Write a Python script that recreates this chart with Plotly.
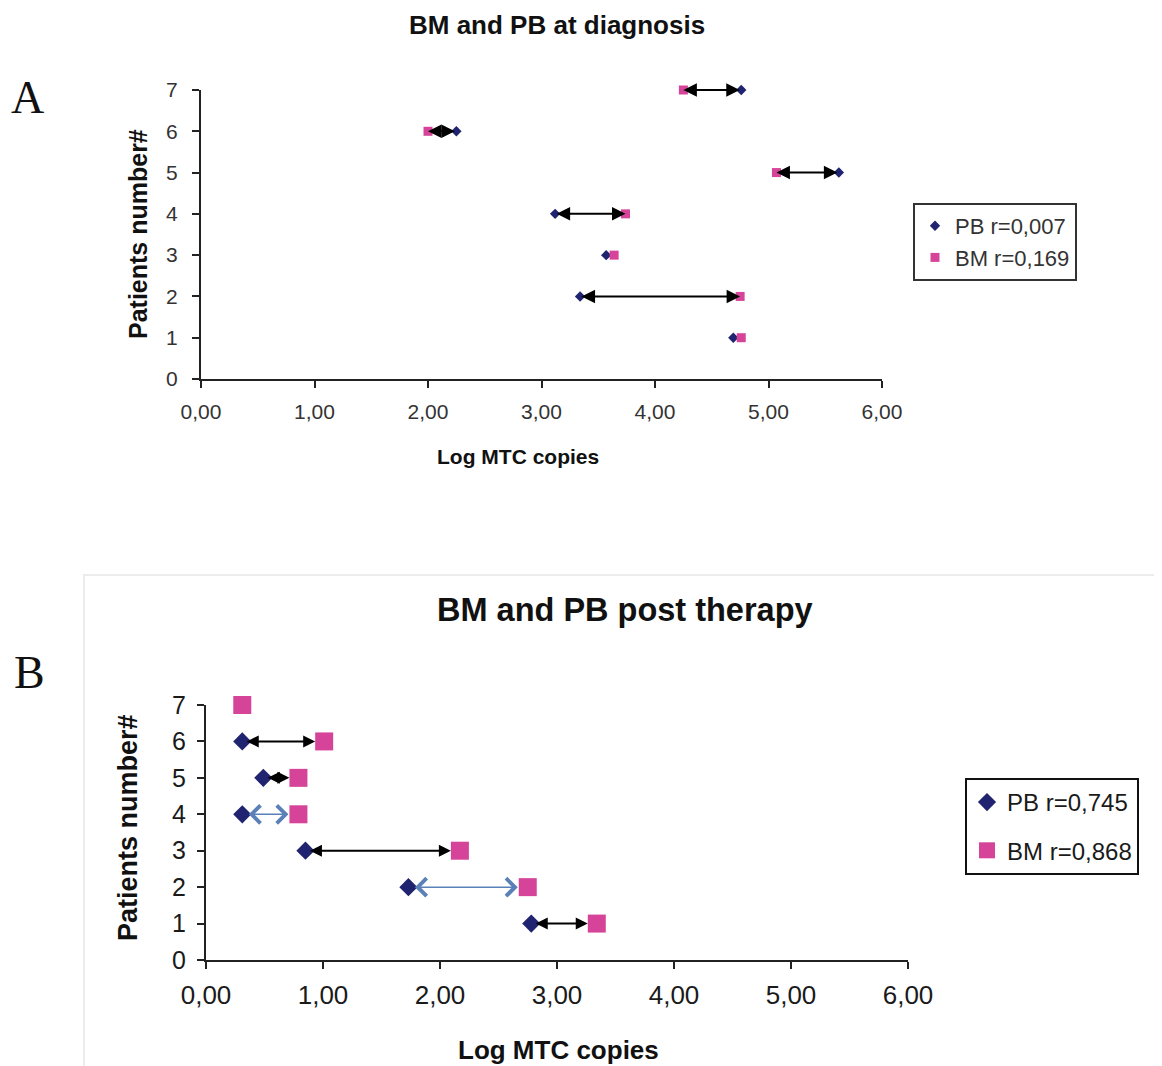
import plotly.graph_objects as go

# ---------------- data ----------------
patients = [1, 2, 3, 4, 5, 6, 7]

# Panel A: at diagnosis (Log MTC copies)
pb_diag = [4.69, 3.34, 3.57, 3.12, 5.62, 2.25, 4.76]
bm_diag = [4.76, 4.75, 3.64, 3.74, 5.07, 2.00, 4.25]
arrows_diag = [7, 6, 5, 4, 2]

# Panel B: post therapy (Log MTC copies)
pb_post = [2.78, 1.73, 0.85, 0.31, 0.49, 0.31, None]
bm_post = [3.34, 2.75, 2.17, 0.79, 0.79, 1.01, 0.31]
arrows_post_solid = [6, 5, 3, 1]
arrows_post_open = [4, 2]

x_ticks = [0, 1, 2, 3, 4, 5, 6]
x_ticklabels = ["0,00", "1,00", "2,00", "3,00", "4,00", "5,00", "6,00"]
y_ticks = [0, 1, 2, 3, 4, 5, 6, 7]

legend_a = ["PB r=0,007", "BM r=0,169"]
legend_b = ["PB r=0,745", "BM r=0,868"]

# ---------------- style ----------------
W, H = 1162, 1066
OFF = 8  # page body margin offset
PB_COLOR = "#1f2370"
BM_COLOR = "#d6449a"
OPEN_ARROW = "#5a80b8"
SANS = "Liberation Sans, Arial, sans-serif"


def px_x(p):
    return (p - OFF) / W


def px_y(p):
    return 1 - (p - OFF) / H


fig = go.Figure()

fig.add_trace(go.Scatter(x=pb_diag, y=patients, mode="markers", name=legend_a[0],
                         marker=dict(symbol="diamond", size=8, color=PB_COLOR), cliponaxis=False,
                         xaxis="x", yaxis="y", legend="legend", legendgroup="a1"))
fig.add_trace(go.Scatter(x=bm_diag, y=patients, mode="markers", name=legend_a[1],
                         marker=dict(symbol="square", size=9, color=BM_COLOR), cliponaxis=False,
                         xaxis="x", yaxis="y", legend="legend", legendgroup="a2"))

fig.add_trace(go.Scatter(x=pb_post, y=patients, mode="markers", name=legend_b[0],
                         marker=dict(symbol="diamond", size=14, color=PB_COLOR), cliponaxis=False,
                         xaxis="x2", yaxis="y2", legend="legend2", legendgroup="b1"))
fig.add_trace(go.Scatter(x=bm_post, y=patients, mode="markers", name=legend_b[1],
                         marker=dict(symbol="square", size=18, color=BM_COLOR), cliponaxis=False,
                         xaxis="x2", yaxis="y2", legend="legend2", legendgroup="b2"))

annotations = []

for p in arrows_diag:
    i = patients.index(p)
    annotations.append(dict(
        x=bm_diag[i], y=p, ax=pb_diag[i], ay=p, xref="x", yref="y", axref="x", ayref="y",
        text="", showarrow=True, arrowside="end+start", arrowhead=2, startarrowhead=2,
        arrowsize=1.35, startarrowsize=1.35, arrowwidth=2, arrowcolor="black",
        standoff=0, startstandoff=0))

for p in arrows_post_solid:
    i = patients.index(p)
    annotations.append(dict(
        x=bm_post[i], y=p, ax=pb_post[i], ay=p, xref="x2", yref="y2", axref="x2", ayref="y2",
        text="", showarrow=True, arrowside="end+start", arrowhead=2, startarrowhead=2,
        arrowsize=1.2, startarrowsize=1.2, arrowwidth=2, arrowcolor="black",
        standoff=9, startstandoff=3))
for p in arrows_post_open:
    i = patients.index(p)
    annotations.append(dict(
        x=bm_post[i], y=p, ax=pb_post[i], ay=p, xref="x2", yref="y2", axref="x2", ayref="y2",
        text="", showarrow=True, arrowside="end+start", arrowhead=4, startarrowhead=4,
        arrowsize=2.3, startarrowsize=2.3, arrowwidth=1.5, arrowcolor=OPEN_ARROW,
        standoff=10, startstandoff=5))

annotations += [
    dict(text="<b>BM and PB at diagnosis</b>", x=px_x(557), y=px_y(25), xref="paper", yref="paper",
         showarrow=False, font=dict(family=SANS, size=26, color="#111111"), xanchor="center", yanchor="middle"),
    dict(text="<b>Log MTC copies</b>", x=px_x(518), y=px_y(456), xref="paper", yref="paper",
         showarrow=False, font=dict(family=SANS, size=21, color="#111111"), xanchor="center", yanchor="middle"),
    dict(text="<b>Patients number#</b>", x=px_x(138), y=px_y(234), xref="paper", yref="paper",
         showarrow=False, textangle=-90, font=dict(family=SANS, size=25, color="#111111"),
         xanchor="center", yanchor="middle"),
    dict(text="A", x=px_x(27), y=px_y(97), xref="paper", yref="paper", showarrow=False,
         font=dict(family="Liberation Serif, serif", size=46, color="#111111"), xanchor="center", yanchor="middle"),
    dict(text="<b>BM and PB post therapy</b>", x=px_x(625), y=px_y(610), xref="paper", yref="paper",
         showarrow=False, font=dict(family=SANS, size=32.5, color="#111111"), xanchor="center", yanchor="middle"),
    dict(text="<b>Log MTC copies</b>", x=px_x(558), y=px_y(1050), xref="paper", yref="paper",
         showarrow=False, font=dict(family=SANS, size=26, color="#111111"), xanchor="center", yanchor="middle"),
    dict(text="<b>Patients number#</b>", x=px_x(128), y=px_y(828), xref="paper", yref="paper",
         showarrow=False, textangle=-90, font=dict(family=SANS, size=27, color="#111111"),
         xanchor="center", yanchor="middle"),
    dict(text="B", x=px_x(29), y=px_y(672), xref="paper", yref="paper", showarrow=False,
         font=dict(family="Liberation Serif, serif", size=46, color="#111111"), xanchor="center", yanchor="middle"),
]

axis_common = dict(showgrid=False, zeroline=False, showline=True, linecolor="#222222", linewidth=2,
                   ticks="outside", ticklen=7, tickwidth=2, tickcolor="#222222", fixedrange=True,
                   automargin=False)

fig.update_layout(
    width=W, height=H,
    margin=dict(l=0, r=0, t=0, b=0, pad=0, autoexpand=False),
    paper_bgcolor="white", plot_bgcolor="white",
    showlegend=True,
    annotations=annotations,
    shapes=[dict(type="rect", xref="paper", yref="paper", x0=px_x(84), x1=1.0, y0=0.0, y1=px_y(575),
                 line=dict(color="#ececec", width=2), fillcolor="rgba(0,0,0,0)", layer="below")],
    xaxis=dict(domain=[px_x(201), px_x(882)], range=[0, 6], tickvals=x_ticks, ticktext=x_ticklabels,
               anchor="y", tickfont=dict(family=SANS, size=21, color="#333333"),
               ticklabelstandoff=6, **axis_common),
    yaxis=dict(domain=[px_y(379), px_y(90)], range=[0, 7], tickvals=y_ticks,
               anchor="x", tickfont=dict(family=SANS, size=21, color="#333333"),
               ticklabelstandoff=10, **axis_common),
    xaxis2=dict(domain=[px_x(206), px_x(908)], range=[0, 6], tickvals=x_ticks, ticktext=x_ticklabels,
                anchor="y2", tickfont=dict(family=SANS, size=26, color="#1a1a1a"),
                ticklabelstandoff=4, **axis_common),
    yaxis2=dict(domain=[px_y(960), px_y(705)], range=[0, 7], tickvals=y_ticks,
                anchor="x2", tickfont=dict(family=SANS, size=25, color="#1a1a1a"),
                ticklabelstandoff=6, **axis_common),
    legend=dict(x=px_x(913), y=px_y(203), xanchor="left", yanchor="top",
                bordercolor="#333333", borderwidth=2, bgcolor="white",
                font=dict(family=SANS, size=22, color="#333333"),
                traceorder="grouped", tracegroupgap=0, itemwidth=30),
    legend2=dict(x=px_x(965), y=px_y(778), xanchor="left", yanchor="top",
                 bordercolor="#111111", borderwidth=2, bgcolor="white",
                 font=dict(family=SANS, size=24, color="#1a1a1a"),
                 traceorder="grouped", tracegroupgap=14, itemwidth=30),
)

fig.write_html("out.html")
